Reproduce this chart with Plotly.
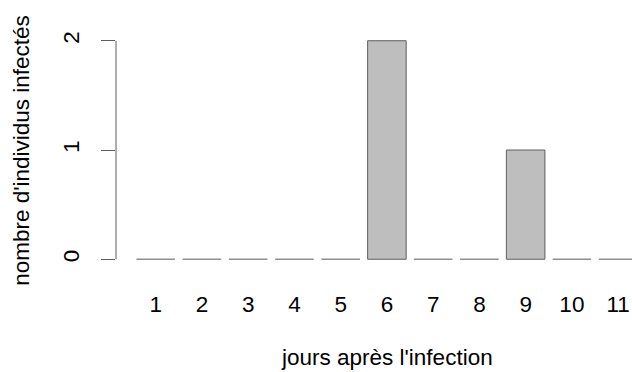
import plotly.graph_objects as go

# Nombre d'individus infectés par jour après l'infection
jours = [1, 2, 3, 4, 5, 6, 7, 8, 9, 10, 11]
infectes = [0, 0, 0, 0, 0, 2, 0, 0, 1, 0, 0]
etiquettes = [str(j) for j in jours]
y_ticks = [0, 1, 2]

BAR_W = 1 / 1.2          # R barplot: width 1, space 0.2
FILL = "#bebebe"
EDGE = "#5e5e5e"
FONT = "Liberation Sans, Arial, sans-serif"
SIZE = 22.5

fig = go.Figure()

nonzero = [(j, v) for j, v in zip(jours, infectes) if v > 0]
fig.add_trace(go.Bar(
    x=[j for j, _ in nonzero],
    y=[v for _, v in nonzero],
    width=BAR_W,
    marker=dict(color=FILL, line=dict(color=EDGE, width=1)),
    hoverinfo="x+y",
))

# zero-height bars show up as a flat outline on the baseline
zx, zy = [], []
for j, v in zip(jours, infectes):
    if v == 0:
        zx += [j - BAR_W / 2, j + BAR_W / 2, None]
        zy += [v, v, None]
fig.add_trace(go.Scatter(
    x=zx, y=zy, mode="lines",
    line=dict(color="#8f8f8f", width=1.3),
    hoverinfo="skip",
))

# y axis line spans only the tick range, as in base R graphics
fig.add_shape(type="line", xref="paper", yref="y",
              x0=0, x1=0, y0=min(y_ticks), y1=max(y_ticks),
              line=dict(color=EDGE, width=1))

fig.add_annotation(text="jours après l'infection", xref="paper", yref="paper",
                   x=(387 - 116) / 516, y=-(357 - 268) / 235.7,
                   showarrow=False, xanchor="center", yanchor="middle",
                   font=dict(size=SIZE, color="black", family=FONT))
fig.add_annotation(text="nombre d'individus infectés", xref="paper", yref="paper",
                   x=-(116 - 22) / 516, y=(268 - 151) / 235.7, textangle=-90,
                   showarrow=False, xanchor="center", yanchor="middle",
                   font=dict(size=SIZE, color="black", family=FONT))

fig.update_layout(
    width=632, height=372,
    margin=dict(l=116, r=0, t=32, b=104),
    plot_bgcolor="white", paper_bgcolor="white",
    showlegend=False,
    font=dict(family=FONT, size=SIZE, color="black"),
    xaxis=dict(
        range=[0.142, 11.30],
        tickvals=jours, ticktext=etiquettes,
        showline=False, showgrid=False, zeroline=False,
        ticks="", ticklabelstandoff=20,
        tickfont=dict(size=SIZE, color="black"),
        fixedrange=True,
    ),
    yaxis=dict(
        range=[-0.08, 2.08],
        tickvals=y_ticks, ticktext=[str(v) for v in y_ticks],
        showline=False, showgrid=False, zeroline=False,
        ticks="outside", ticklen=14, tickcolor=EDGE, tickwidth=1,
        tickangle=-90, ticklabelstandoff=13,
        tickfont=dict(size=SIZE, color="black"),
        fixedrange=True,
    ),
)

fig.write_html("out.html")
